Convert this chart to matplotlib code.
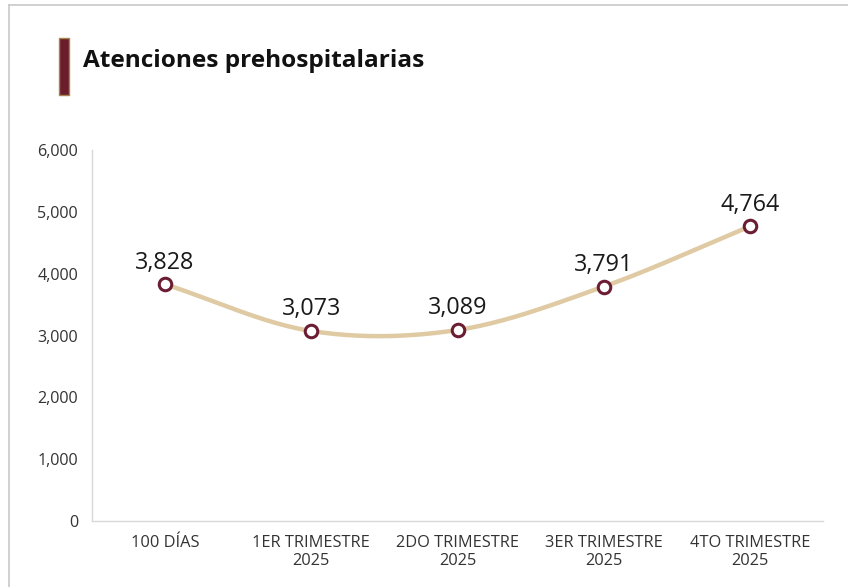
import numpy as np
import matplotlib.pyplot as plt
from matplotlib.patches import Rectangle
from matplotlib.lines import Line2D
from matplotlib.ticker import FuncFormatter

title = "Atenciones prehospitalarias"
categories = ["100 DÍAS", "1ER TRIMESTRE\n2025", "2DO TRIMESTRE\n2025",
              "3ER TRIMESTRE\n2025", "4TO TRIMESTRE\n2025"]
values = [3828, 3073, 3089, 3791, 4764]
yticks = [0, 1000, 2000, 3000, 4000, 5000, 6000]

LINE = "#dfcaa3"
MAROON = "#6b1d33"
FONT = ["Open Sans", "DejaVu Sans"]
plt.rcParams["font.family"] = FONT


def smooth(x, y, n=40, t=0.5):
    # catmull-rom style smoothing, like spreadsheet "smoothed line"
    x = np.asarray(x, float); y = np.asarray(y, float)
    px = np.concatenate([[2 * x[0] - x[1]], x, [2 * x[-1] - x[-2]]])
    py = np.concatenate([[2 * y[0] - y[1]], y, [2 * y[-1] - y[-2]]])
    xs, ys = [], []
    for i in range(1, len(px) - 2):
        s = np.linspace(0, 1, n)
        for arr, out in ((px, xs), (py, ys)):
            p0, p1, p2, p3 = arr[i - 1:i + 3]
            m1 = t * (p2 - p0); m2 = t * (p3 - p1)
            h00 = 2 * s**3 - 3 * s**2 + 1; h10 = s**3 - 2 * s**2 + s
            h01 = -2 * s**3 + 3 * s**2; h11 = s**3 - s**2
            out.extend(h00 * p1 + h10 * m1 + h01 * p2 + h11 * m2)
    return np.array(xs), np.array(ys)


fig = plt.figure(figsize=(8.48, 5.87), dpi=100)

# outer frame lines (top and left)
fig.add_artist(Line2D([9 / 848, 9 / 848], [0, 1 - 5 / 587], color="#c8c8c8", lw=1.2))
fig.add_artist(Line2D([9 / 848, 1], [1 - 5 / 587, 1 - 5 / 587], color="#c8c8c8", lw=1.2))

# title marker bar
fig.add_artist(Rectangle((59 / 848, 1 - 95 / 587), 10 / 848, 57 / 587,
                         facecolor="#6b1d2e", edgecolor="#a8844a", lw=1.0))
fig.text(83 / 848, 1 - 61 / 587, title, fontsize=17.6, fontweight="bold",
         color="#111111", va="center", ha="left")

ax = fig.add_axes([92 / 848, 66 / 587, 731 / 848, 371 / 587])
x = np.arange(len(values))
sx, sy = smooth(x, values)
ax.plot(sx, sy, color=LINE, lw=3.2, solid_capstyle="round", zorder=2)
ax.plot(x, values, "o", ms=9, mfc="white", mec=MAROON, mew=2.2, zorder=3)
for xi, v in zip(x, values):
    ax.annotate(f"{v:,}", (xi, v), xytext=(0, 7), textcoords="offset points",
                ha="center", va="bottom", fontsize=16.8, color="#1a1a1a")

ax.set_xlim(-0.5, len(values) - 0.5)
ax.set_ylim(0, 6000)
ax.set_yticks(yticks)
ax.yaxis.set_major_formatter(FuncFormatter(lambda v, p: f"{int(v):,}"))
ax.set_xticks(x)
ax.set_xticklabels(categories, fontsize=11.8, color="#333333", linespacing=1.15)
ax.tick_params(axis="y", labelsize=11.6, labelcolor="#333333", length=0, pad=10)
ax.tick_params(axis="x", length=0, pad=10)
for s in ("top", "right"):
    ax.spines[s].set_visible(False)
ax.spines["left"].set_color("#d9d9d9")
ax.spines["bottom"].set_color("#d9d9d9")
ax.spines["left"].set_linewidth(1.0)
ax.spines["bottom"].set_linewidth(1.0)

fig.savefig("out.png", dpi=100)
